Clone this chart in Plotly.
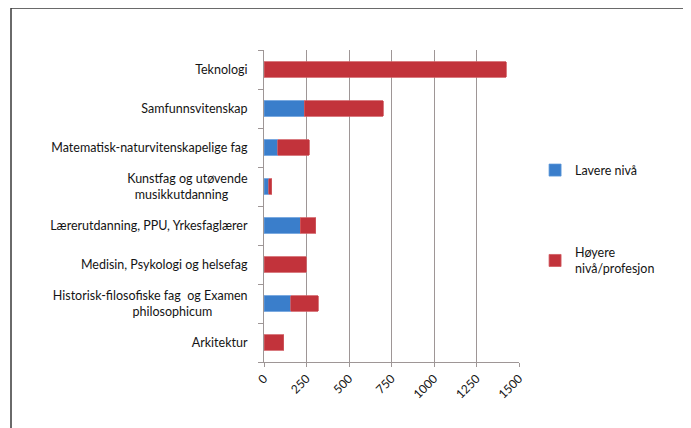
import plotly.graph_objects as go

categories = [
    "Teknologi",
    "Samfunnsvitenskap",
    "Matematisk-naturvitenskapelige fag",
    "Kunstfag og utøvende musikkutdanning",
    "Lærerutdanning, PPU, Yrkesfaglærer",
    "Medisin, Psykologi og helsefag",
    "Historisk-filosofiske fag og Examen philosophicum",
    "Arkitektur",
]
tick_labels = [
    "Teknologi",
    "Samfunnsvitenskap",
    "Matematisk-naturvitenskapelige fag",
    "Kunstfag og utøvende<br>musikkutdanning&nbsp;&nbsp;&nbsp;&nbsp;&nbsp;&nbsp;",
    "Lærerutdanning, PPU, Yrkesfaglærer",
    "Medisin, Psykologi og helsefag",
    "Historisk-filosofiske fag&nbsp; og Examen<br>philosophicum&nbsp;&nbsp;&nbsp;&nbsp;&nbsp;&nbsp;&nbsp;&nbsp;&nbsp;&nbsp;&nbsp;",
    "Arkitektur",
]
lavere = [0, 236, 82, 27, 213, 0, 158, 0]
hoyere = [1426, 466, 184, 20, 92, 248, 161, 117]
x_ticks = [0, 250, 500, 750, 1000, 1250, 1500]

font_family = "Lato, 'Open Sans', sans-serif"
grid_col = "#9e9696"
text_col = "#141414"

fig = go.Figure()
fig.add_trace(go.Bar(
    y=categories, x=lavere, orientation="h", name="Lavere nivå",
    marker=dict(color="#3a7ecb", line=dict(color="#5a95d8", width=0.8)),
    legendgroup="a",
))
fig.add_trace(go.Bar(
    y=categories, x=hoyere, orientation="h", name="Høyere<br>nivå/profesjon",
    marker=dict(color="#c2333b", line=dict(color="#d05a60", width=0.8)),
    legendgroup="b",
))

fig.update_layout(
    barmode="stack",
    bargap=0.6,
    width=691, height=428,
    margin=dict(l=256, r=180, t=42, b=74),
    paper_bgcolor="white", plot_bgcolor="white",
    font=dict(family=font_family, size=12.5, color=text_col),
    showlegend=True,
    legend=dict(
        x=1.063, y=0.662, xanchor="left", yanchor="top",
        traceorder="grouped", tracegroupgap=63,
        font=dict(size=12.5, color=text_col),
        itemwidth=30,
        bgcolor="rgba(0,0,0,0)",
    ),
    xaxis=dict(
        range=[0, 1500], tickvals=x_ticks, ticktext=[str(v) for v in x_ticks],
        tickangle=-45, showgrid=True, gridcolor=grid_col, gridwidth=1,
        showline=True, linecolor=grid_col, linewidth=1,
        ticks="outside", ticklen=4, tickcolor=grid_col,
        zeroline=False, fixedrange=True,
        tickfont=dict(size=12, color=text_col),
    ),
    yaxis=dict(
        categoryorder="array", categoryarray=categories,
        autorange="reversed",
        tickvals=categories, ticktext=tick_labels,
        showline=True, linecolor=grid_col, linewidth=1,
        ticks="outside", ticklen=5, tickcolor=grid_col,
        tickson="boundaries", showgrid=False,
        ticklabelstandoff=13,
        tickfont=dict(size=12.5, color=text_col),
    ),
    shapes=[dict(
        type="rect", xref="paper", yref="paper",
        x0=(11 - 264) / 255, x1=(720 - 264) / 255,
        y0=(362 - 450) / 312, y1=(362 - 8) / 312,
        line=dict(color="#3a3a3a", width=1.5), fillcolor="rgba(0,0,0,0)",
        layer="below",
    )],
)

fig.write_html("out.html")
